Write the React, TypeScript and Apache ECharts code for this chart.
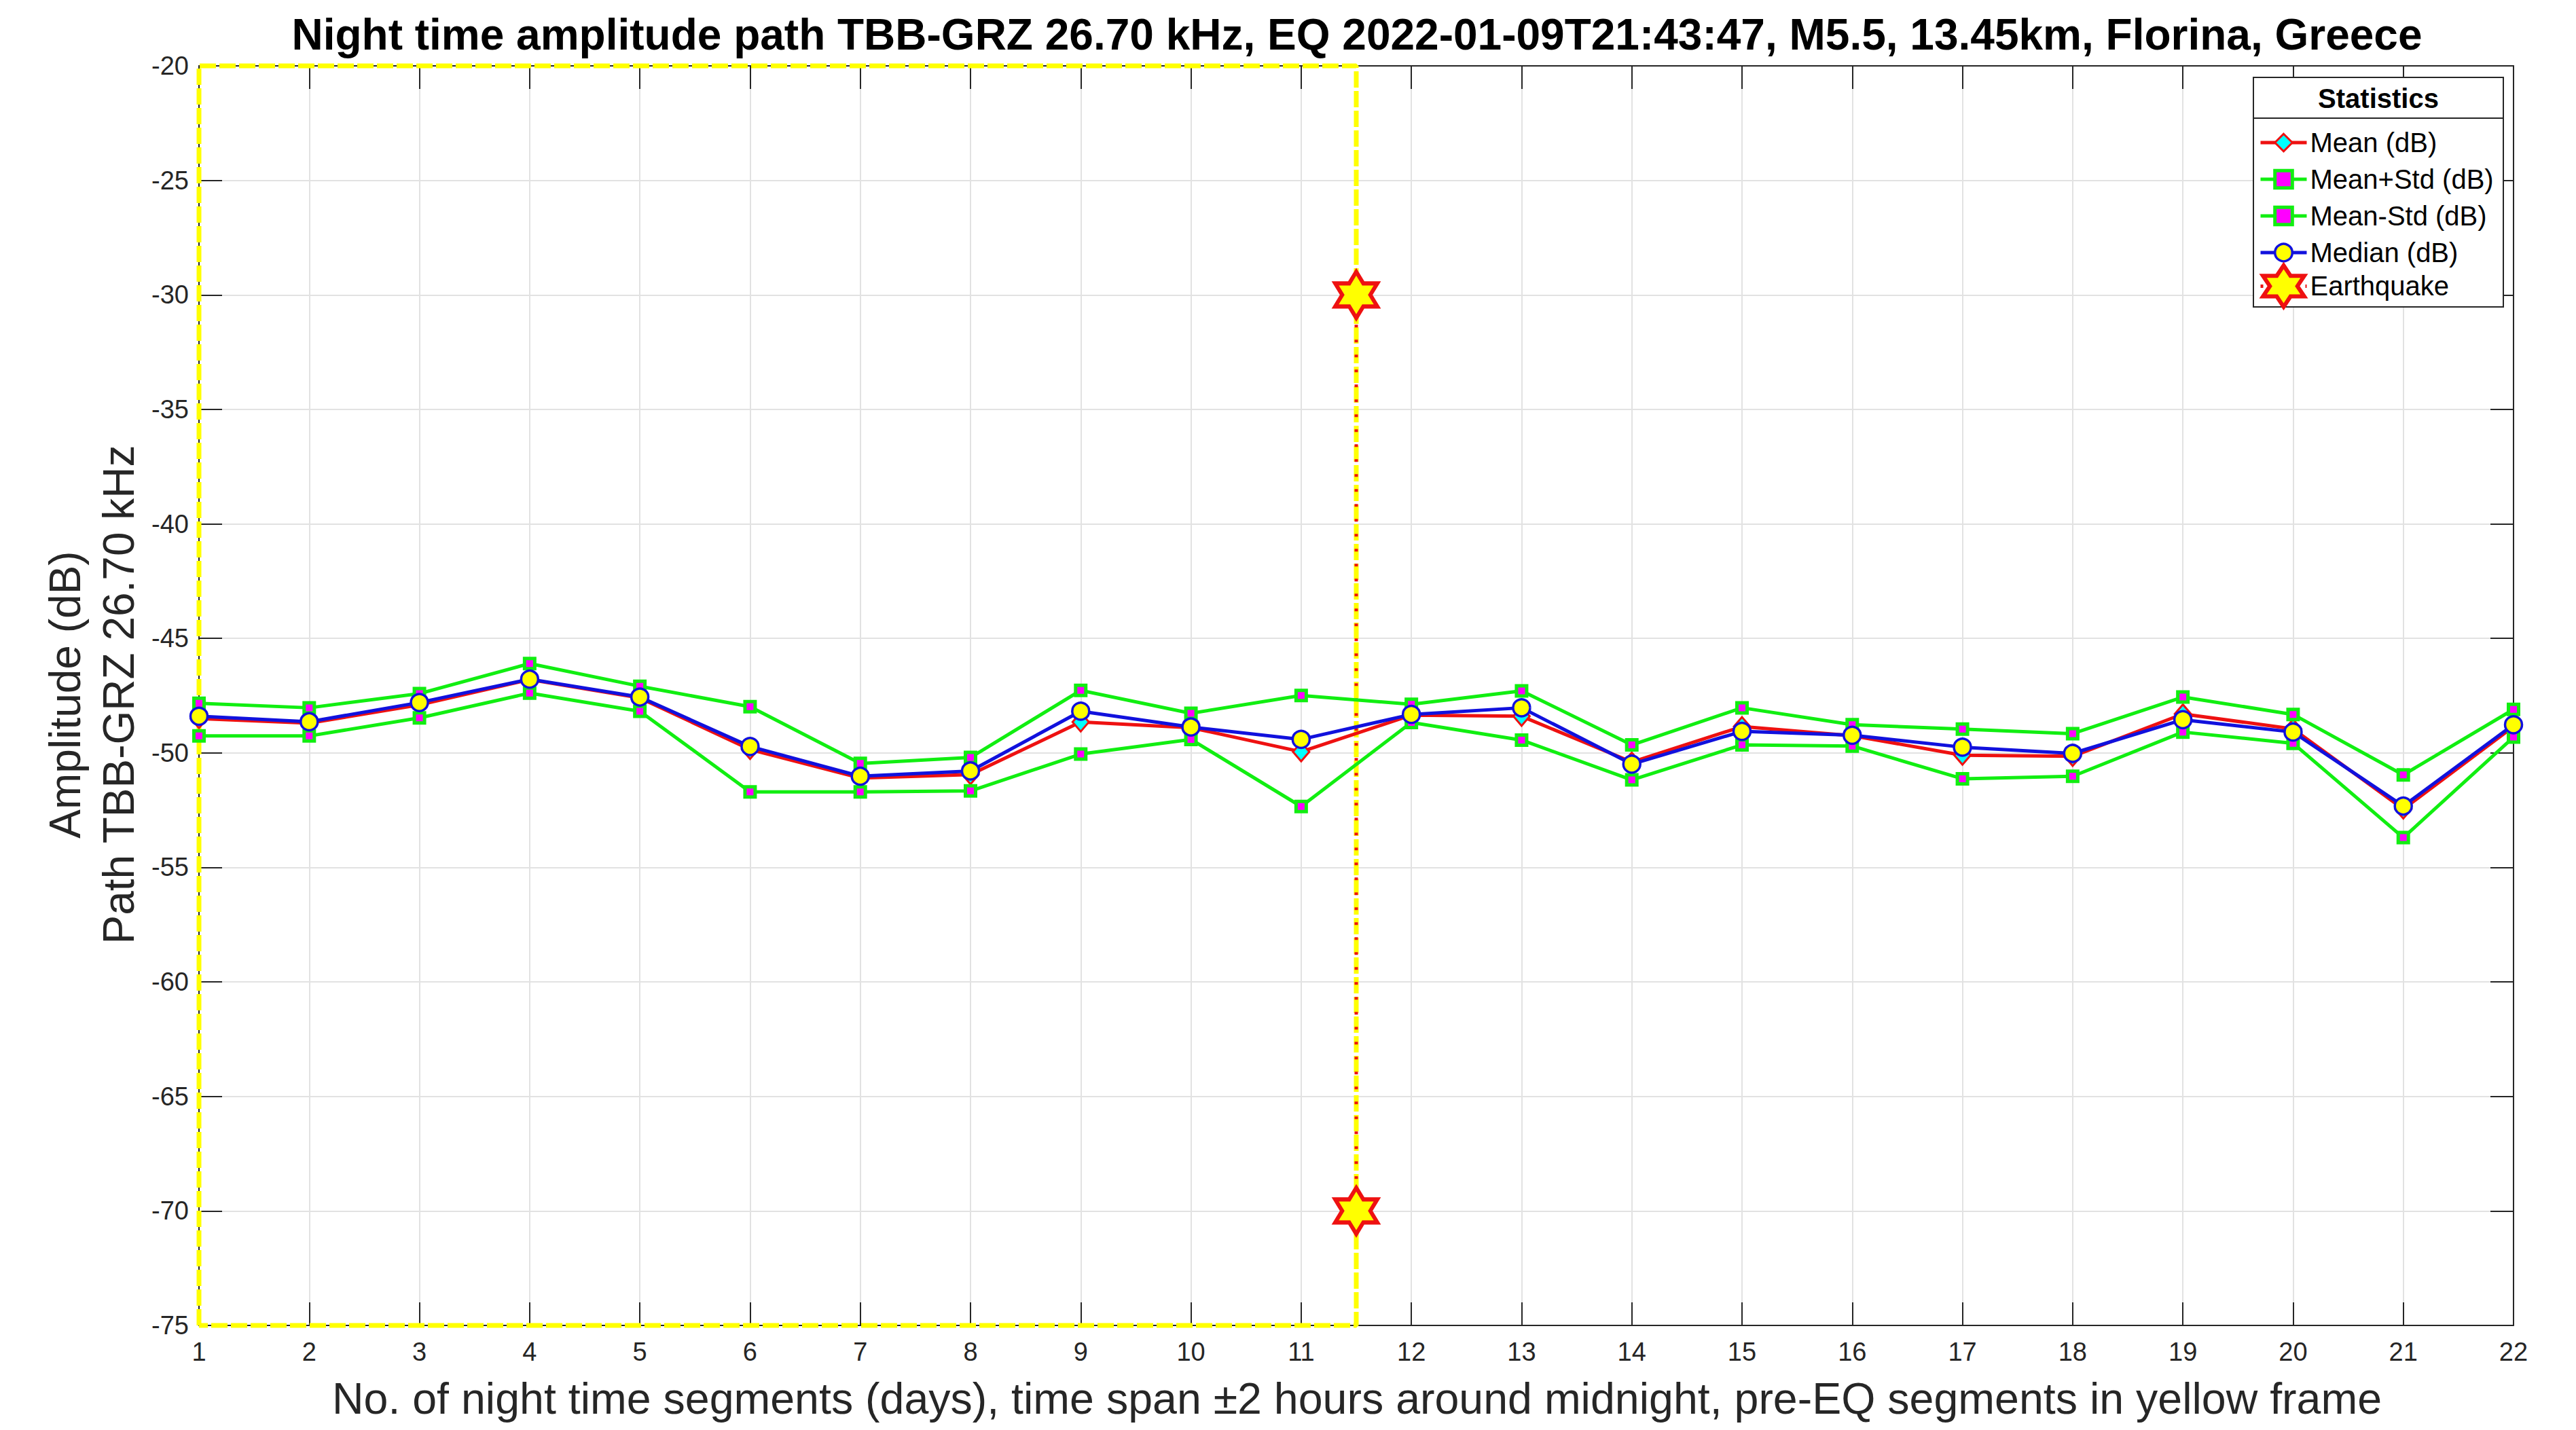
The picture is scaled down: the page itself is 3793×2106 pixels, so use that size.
import React, { useEffect, useRef } from "react";
import * as echarts from "echarts";

// ---------------- data ----------------
const days: number[] = [1, 2, 3, 4, 5, 6, 7, 8, 9, 10, 11, 12, 13, 14, 15, 16, 17, 18, 19, 20, 21, 22];
const meanDb: number[] = [-48.5, -48.7, -47.9, -46.8, -47.6, -49.85, -51.1, -50.95, -48.65, -48.9, -49.95, -48.35, -48.4, -50.4, -48.85, -49.25, -50.1, -50.15, -48.3, -48.95, -52.45, -48.85];
const meanPlusStd: number[] = [-47.83, -48.03, -47.41, -46.1, -47.09, -47.98, -50.46, -50.2, -47.27, -48.27, -47.49, -47.88, -47.29, -49.65, -48.03, -48.77, -48.96, -49.16, -47.56, -48.32, -50.96, -48.1];
const meanMinusStd: number[] = [-49.26, -49.26, -48.47, -47.39, -48.18, -51.7, -51.7, -51.66, -50.05, -49.41, -52.34, -48.67, -49.44, -51.18, -49.65, -49.7, -51.13, -51.02, -49.09, -49.58, -53.7, -49.31];
const medianDb: number[] = [-48.4, -48.64, -47.8, -46.78, -47.56, -49.72, -51.02, -50.79, -48.18, -48.87, -49.41, -48.32, -48.03, -50.49, -49.06, -49.23, -49.75, -50.02, -48.55, -49.09, -52.32, -48.77];
const eqX: number = 11.5;
const eqY: number[] = [-30, -70];
const frameX: number[] = [1, 11.5];
const frameY: number[] = [-75, -20];
const xRange: number[] = [1, 22];
const yRange: number[] = [-75, -20];

const TITLE = "Night time amplitude path TBB-GRZ 26.70 kHz, EQ 2022-01-09T21:43:47, M5.5, 13.45km, Florina, Greece";
const XLABEL = "No. of night time segments (days), time span \u00B12 hours around midnight, pre-EQ segments in yellow frame";
const YLABEL1 = "Amplitude (dB)";
const YLABEL2 = "Path TBB-GRZ 26.70 kHz";
const LEGEND_TITLE = "Statistics";
const NAMES = ["Mean (dB)", "Mean+Std (dB)", "Mean-Std (dB)", "Median (dB)", "Earthquake"];

// ---------------- styles ----------------
const FONT = "'Liberation Sans', Arial, Helvetica, sans-serif";
const AX = "#262626";
const RED = "#ee1111";
const BLUE = "#1111dd";
const GREEN = "#11ee11";
const MAGENTA = "#ff00ff";
const CYAN = "#00ffff";
const YELLOW = "#ffff00";

function hexagramPath(): string {
  const pts: string[] = [];
  for (let k = 0; k < 12; k++) {
    const a = ((-90 + 30 * k) * Math.PI) / 180;
    const r = k % 2 === 0 ? 100 : 100 / Math.sqrt(3);
    pts.push(`${(r * Math.cos(a)).toFixed(2)} ${(r * Math.sin(a)).toFixed(2)}`);
  }
  return "path://M" + pts.join(" L") + " Z";
}

function pairs(xs: number[], ys: number[]) {
  return xs.map((x, i) => [x, ys[i]]);
}

export default function App() {
  const ref = useRef<HTMLDivElement>(null);
  useEffect(() => {
    if (!ref.current) return;
    const chart = echarts.init(ref.current, undefined, { renderer: "svg" });
    const star = hexagramPath();
    const axisLine = { show: true, onZero: false, lineStyle: { color: AX, width: 2 } };
    const axisTick = { show: true, inside: true, length: 34, lineStyle: { color: AX, width: 2 } };
    const grid = { show: true, lineStyle: { color: "#e2e2e2", width: 2 } };

    const frameData = [
      [frameX[0], frameY[0]],
      [frameX[0], frameY[1]],
      [frameX[1], frameY[1]],
      [frameX[1], frameY[0]],
      [frameX[0], frameY[0]],
    ];

    const legendCommon = {
      orient: "vertical",
      left: 3321,
      itemWidth: 68,
      selectedMode: false,
      z: 20,
      textStyle: { fontSize: 40, lineHeight: 40, color: "#000", fontFamily: FONT },
      lineStyle: { width: "inherit" },
      itemStyle: { borderWidth: "inherit" },
    };

    const option: any = {
      animation: false,
      backgroundColor: "#ffffff",
      textStyle: { fontFamily: FONT },
      grid: { left: 293, top: 97, right: 92, bottom: 154 },
      xAxis: [
        {
          type: "value", min: xRange[0], max: xRange[1], interval: 1,
          axisLine, axisTick, splitLine: grid,
          axisLabel: { fontSize: 38, color: AX, margin: 20, fontFamily: FONT },
        },
        {
          type: "value", position: "top", min: xRange[0], max: xRange[1], interval: 1,
          axisLine, axisTick, splitLine: { show: false }, axisLabel: { show: false },
        },
      ],
      yAxis: [
        {
          type: "value", min: yRange[0], max: yRange[1], interval: 5,
          axisLine, axisTick, splitLine: grid,
          axisLabel: { fontSize: 38, color: AX, margin: 15, fontFamily: FONT },
        },
        {
          type: "value", position: "right", min: yRange[0], max: yRange[1], interval: 5,
          axisLine, axisTick, splitLine: { show: false }, axisLabel: { show: false },
        },
      ],
      legend: [
        {
          ...legendCommon,
          top: 185,
          itemHeight: 32,
          itemGap: 14,
          data: NAMES.slice(0, 4),
        },
        {
          ...legendCommon,
          top: 383,
          itemHeight: 76,
          itemGap: 0,
          data: [NAMES[4]],
        },
      ],
      series: [
        {
          name: "frame",
          type: "line",
          data: frameData,
          clip: false,
          symbol: "none",
          silent: true,
          lineStyle: { color: YELLOW, width: 7, type: [24, 5] },
          z: 2,
        },
        {
          name: NAMES[4],
          type: "line",
          data: eqY.map((y) => [eqX, y]),
          symbol: star,
          symbolSize: [62, 68],
          lineStyle: { color: RED, width: 5, type: [4, 18] },
          itemStyle: { color: YELLOW, borderColor: RED, borderWidth: 6 },
          z: 3,
        },
        {
          name: NAMES[0],
          type: "line",
          data: pairs(days, meanDb),
          symbol: "diamond",
          symbolSize: [24, 28],
          lineStyle: { color: RED, width: 5 },
          itemStyle: { color: CYAN, borderColor: RED, borderWidth: 3 },
          z: 4,
        },
        {
          name: NAMES[1],
          type: "line",
          data: pairs(days, meanPlusStd),
          symbol: "rect",
          symbolSize: 15,
          lineStyle: { color: GREEN, width: 5 },
          itemStyle: { color: MAGENTA, borderColor: GREEN, borderWidth: 5 },
          z: 4,
        },
        {
          name: NAMES[2],
          type: "line",
          data: pairs(days, meanMinusStd),
          symbol: "rect",
          symbolSize: 15,
          lineStyle: { color: GREEN, width: 5 },
          itemStyle: { color: MAGENTA, borderColor: GREEN, borderWidth: 5 },
          z: 4,
        },
        {
          name: NAMES[3],
          type: "line",
          data: pairs(days, medianDb),
          symbol: "circle",
          symbolSize: 25,
          lineStyle: { color: BLUE, width: 5 },
          itemStyle: { color: YELLOW, borderColor: BLUE, borderWidth: 3.5 },
          z: 4,
        },
      ],
      graphic: [
        {
          type: "text", x: 1998, y: 51, z: 10,
          style: {
            text: TITLE, fill: "#000", font: `bold 64px ${FONT}`,
            textAlign: "center", textVerticalAlign: "middle", align: "center", verticalAlign: "middle",
          },
        },
        {
          type: "text", x: 1998, y: 2060, z: 10,
          style: {
            text: XLABEL, fill: AX, font: `64.5px ${FONT}`,
            textAlign: "center", textVerticalAlign: "middle", align: "center", verticalAlign: "middle",
          },
        },
        {
          type: "text", x: 96, y: 1023, rotation: Math.PI / 2, z: 10,
          style: {
            text: YLABEL1, fill: AX, font: `64px ${FONT}`,
            textAlign: "center", textVerticalAlign: "middle", align: "center", verticalAlign: "middle",
          },
        },
        {
          type: "text", x: 175, y: 1023, rotation: Math.PI / 2, z: 10,
          style: {
            text: YLABEL2, fill: AX, font: `64px ${FONT}`,
            textAlign: "center", textVerticalAlign: "middle", align: "center", verticalAlign: "middle",
          },
        },
        {
          type: "rect", z: 15,
          shape: { x: 3318, y: 114, width: 368, height: 338 },
          style: { fill: "#ffffff", stroke: AX, lineWidth: 2 },
        },
        {
          type: "line", z: 16,
          shape: { x1: 3318, y1: 174, x2: 3686, y2: 174 },
          style: { stroke: AX, lineWidth: 2 },
        },
        {
          type: "text", x: 3502, y: 145, z: 16,
          style: {
            text: LEGEND_TITLE, fill: "#000", font: `bold 40px ${FONT}`,
            textAlign: "center", textVerticalAlign: "middle", align: "center", verticalAlign: "middle",
          },
        },
      ],
    };
    chart.setOption(option);
    return () => chart.dispose();
  }, []);
  return (
    <div
      ref={ref}
      style={{ position: "absolute", left: 0, top: 0, width: 3793, height: 2106, background: "#fff" }}
    />
  );
}
